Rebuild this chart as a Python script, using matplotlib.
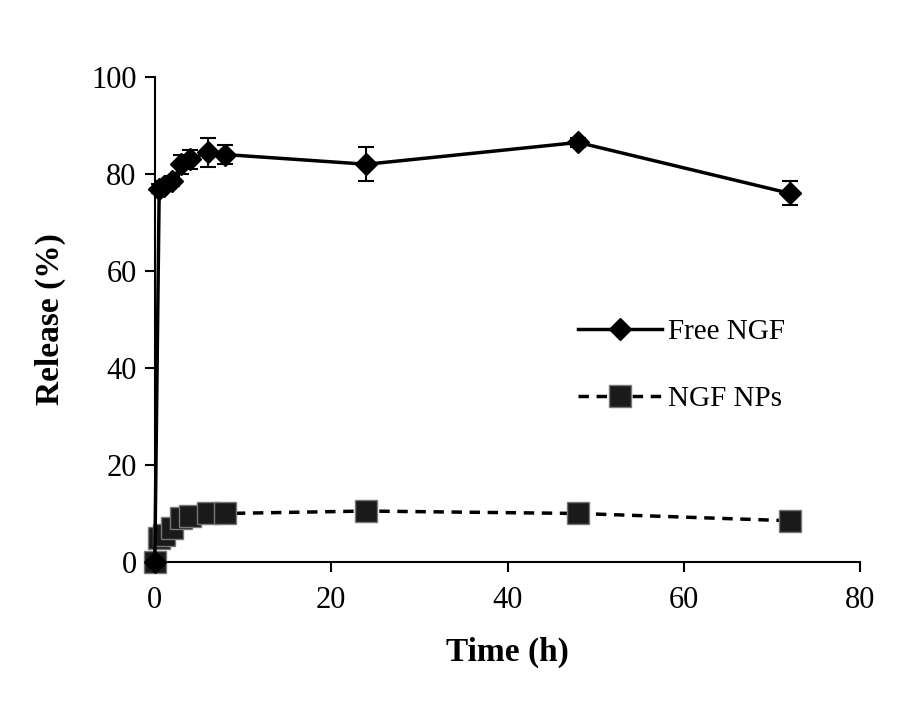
import matplotlib.pyplot as plt
from matplotlib.lines import Line2D
import numpy as np

plt.rcParams['font.family'] = ['Liberation Serif', 'DejaVu Serif']

# release data
time_h = np.array([0, 0.5, 1, 2, 3, 4, 6, 8, 24, 48, 72])
free_ngf = np.array([0, 77, 77.5, 78.5, 82, 83, 84.5, 84, 82, 86.5, 76])
free_ngf_err = np.array([0, 1, 1, 1, 2, 2, 3, 2, 3.5, 1, 2.5])
ngf_nps = np.array([0, 5, 5.5, 7, 9, 9.5, 10, 10, 10.5, 10, 8.5])

fig = plt.figure(figsize=(9, 7.06), dpi=100)
ax = fig.add_axes([0.172, 0.204, 0.784, 0.687])

free_style = dict(color='black', linewidth=2.5, marker='D', markersize=11)
nps_style = dict(color='black', linewidth=2.5, linestyle=(0, (3, 2.2)),
                 marker='s', markersize=16, markerfacecolor='#1a1a1a',
                 markeredgecolor='#777777', markeredgewidth=1)

ax.errorbar(time_h, free_ngf, yerr=free_ngf_err, capsize=6, elinewidth=1.5,
            capthick=1.5, clip_on=False, zorder=3, **free_style)
ax.plot(time_h, ngf_nps, clip_on=False, zorder=3, **nps_style)

ax.set_xlim(0, 80)
ax.set_ylim(0, 100)
ax.set_xticks([0, 20, 40, 60, 80])
ax.set_yticks([0, 20, 40, 60, 80, 100])
ax.spines['top'].set_visible(False)
ax.spines['right'].set_visible(False)
ax.spines['left'].set_linewidth(1.5)
ax.spines['bottom'].set_linewidth(1.5)
ax.tick_params(direction='out', length=7, width=1.5, labelsize=22)
ax.tick_params(axis='x', pad=10)
ax.tick_params(axis='y', pad=6)

ax.set_xlabel('Time (h)', fontsize=24, fontweight='bold', labelpad=16)
ax.set_ylabel('Release (%)', fontsize=24, fontweight='bold', labelpad=18)

handles = [Line2D([], [], **free_style), Line2D([], [], **nps_style)]
ax.legend(handles, ['Free NGF', 'NGF NPs'], loc='center left',
          bbox_to_anchor=(0.562, 0.405), frameon=False, fontsize=21,
          handlelength=2.9, handletextpad=0.2, labelspacing=1.4)

fig.savefig('out.png', dpi=100)
